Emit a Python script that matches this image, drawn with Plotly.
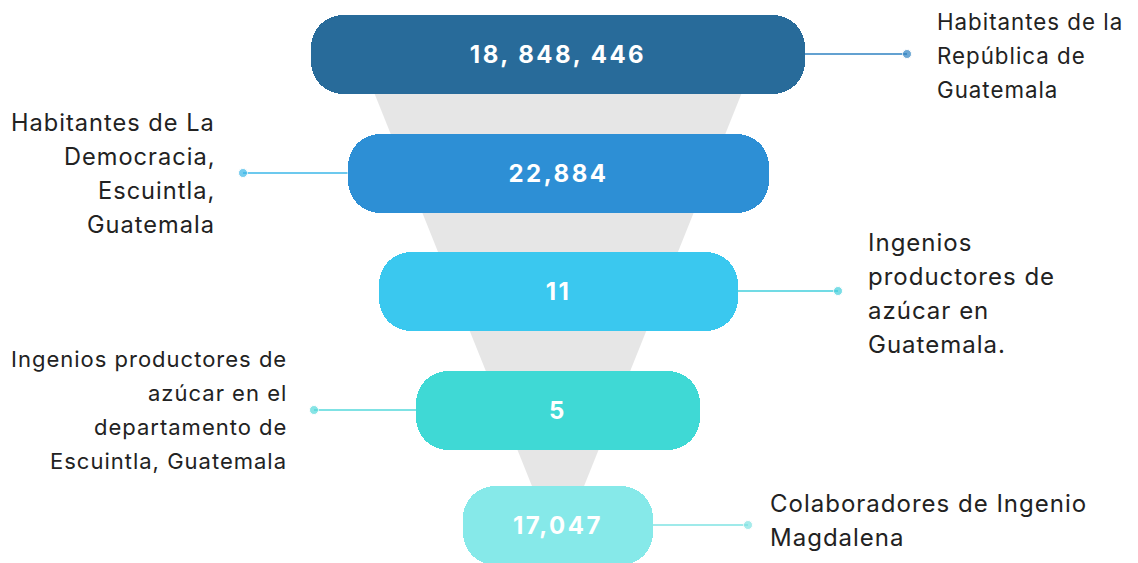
import plotly.graph_objects as go

# ---- data -------------------------------------------------------------
stage_values = [18848446, 22884, 11, 5, 17047]
value_labels = ["18, 848, 446", "22,884", "11", "5", "17,047"]
stage_descriptions = [
    ["Habitantes de la", "República de", "Guatemala"],
    ["Habitantes de La", "Democracia,", "Escuintla,", "Guatemala"],
    ["Ingenios", "productores de", "azúcar en", "Guatemala."],
    ["Ingenios productores de", "azúcar en el", "departamento de", "Escuintla, Guatemala"],
    ["Colaboradores de Ingenio", "Magdalena"],
]

# ---- layout / style ---------------------------------------------------
W, H = 1138, 563
CX = 558                                   # funnel centre line
row_y = [54, 173, 291, 410, 525]           # pill centres
pill_w = [494, 421, 359, 284, 190]         # decorative pill lengths
pill_h = 79
pill_colors = ["#286b9a", "#2d8fd5", "#3ac8ef", "#3fd9d5", "#86e9e9"]
link_colors = ["#2f82c2", "#3bb7e8", "#42cfdc", "#55d9db", "#7fe3e3"]
side = ["right", "left", "right", "left", "right"]
dot_x = [907, 243, 838, 314, 748]
label_x = [935, 217, 866, 289, 768]
label_cy = [55, 173, 293, 410, 520]
label_size = [22.3, 23.6, 24, 22, 24]
line_gap = 34
FONT = "Inter"

fig = go.Figure()

# grey funnel behind the pills
fig.add_shape(
    type="path",
    path=f"M {CX - 215},15 L {CX + 215},15 L {CX},551 Z",
    xref="x", yref="y",
    fillcolor="#e6e6e6", line=dict(width=0), layer="below",
)

# connector lines with end dots
for i in range(len(stage_values)):
    edge = CX + pill_w[i] / 2 if side[i] == "right" else CX - pill_w[i] / 2
    fig.add_trace(go.Scatter(
        x=[edge, dot_x[i]], y=[row_y[i], row_y[i]],
        mode="lines+markers",
        line=dict(color=link_colors[i], width=1.6),
        marker=dict(size=[0, 9], color=link_colors[i]),
        hoverinfo="skip", showlegend=False,
    ))

# rounded pills carrying the values
fig.add_trace(go.Bar(
    orientation="h",
    y=row_y,
    x=pill_w,
    base=[CX - w / 2 for w in pill_w],
    width=pill_h,
    marker=dict(color=pill_colors, line=dict(width=0), cornerradius=32),
    text=value_labels,
    customdata=stage_values,
    textposition="inside",
    insidetextanchor="middle",
    textangle=0,
    textfont=dict(family=FONT, size=24, color="white", weight="bold"),
    hovertemplate="%{customdata:,}<extra></extra>",
    showlegend=False,
))

# descriptive labels, one annotation per line
for i, lines in enumerate(stage_descriptions):
    n = len(lines)
    anchor = "left" if side[i] == "right" else "right"
    for j, txt in enumerate(lines):
        y = label_cy[i] + (j - (n - 1) / 2) * line_gap
        fig.add_annotation(
            x=label_x[i], y=y, text=txt, showarrow=False,
            xanchor=anchor, align=anchor, yanchor="middle",
            font=dict(family=FONT, size=label_size[i], color="#222222"),
        )

fig.update_layout(
    width=W, height=H,
    margin=dict(l=0, r=0, t=0, b=0),
    paper_bgcolor="white", plot_bgcolor="white",
    xaxis=dict(range=[0, W], visible=False, fixedrange=True),
    yaxis=dict(range=[H, 0], visible=False, fixedrange=True),
    bargap=0,
    uniformtext=dict(mode=False),
)

# open letter spacing on the text, reapplied after every redraw
spacing_js = """
var gd = document.getElementById('{plot_id}');
function spaceText() {
  gd.querySelectorAll('.annotation-text').forEach(function (t) {
    t.style.letterSpacing = '1px';
  });
  gd.querySelectorAll('.bartext').forEach(function (t) {
    t.style.letterSpacing = '2.5px';
  });
}
spaceText();
gd.on('plotly_afterplot', spaceText);
setTimeout(spaceText, 50);
"""

fig.write_html("out.html", post_script=spacing_js)
